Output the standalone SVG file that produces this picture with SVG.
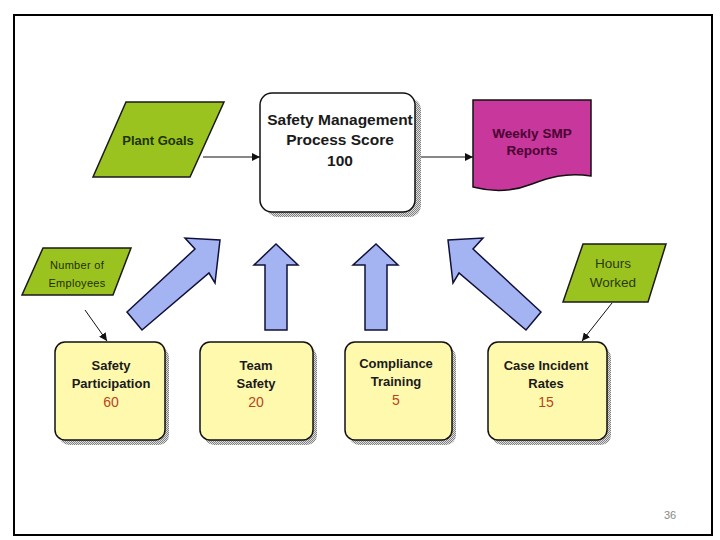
<svg xmlns="http://www.w3.org/2000/svg" width="720" height="540" viewBox="0 0 720 540">
<style>
.lbl{font-family:"Liberation Sans",Arial,sans-serif;font-weight:bold;text-anchor:middle}
.reg{font-family:"Liberation Sans",Arial,sans-serif;text-anchor:middle}
.para{fill:#9BC31F;stroke:#1a1a1a;stroke-width:1.5}
.box{fill:#FFF9AE;stroke:#111;stroke-width:1.5}
.big{fill:#A4B4F2;stroke:#10103a;stroke-width:1.5;stroke-linejoin:miter}
.conn{stroke:#111;stroke-width:1;fill:none}
.num{fill:#B5451B;font-size:14px}
</style>
<defs>
<pattern id="hatch" width="2" height="2" patternUnits="userSpaceOnUse">
<rect width="2" height="2" fill="#e0e0e0"/>
<rect width="1" height="1" fill="#808080"/>
<rect x="1" y="1" width="1" height="1" fill="#808080"/>
</pattern>
<marker id="arr" viewBox="0 0 10 10" refX="10" refY="5" markerWidth="8" markerHeight="8" markerUnits="userSpaceOnUse" orient="auto">
<path d="M0,0 L10,5 L0,10 Z" fill="#111"/>
</marker>
</defs>
<rect width="720" height="540" fill="#fff"/>
<rect x="14" y="15" width="698" height="520" fill="none" stroke="#000" stroke-width="2"/>

<g id="connectors">
<line class="conn" x1="203" y1="157" x2="260" y2="157" marker-end="url(#arr)"/>
<line class="conn" x1="415" y1="157" x2="473" y2="157" marker-end="url(#arr)"/>
<line class="conn" x1="85" y1="310" x2="107" y2="341" marker-end="url(#arr)"/>
<line class="conn" x1="612" y1="303" x2="582" y2="341" marker-end="url(#arr)"/>
<polygon class="big" points="127,312 195,249 185,238 220,240 215,283 209,273 142,330"/>
<polygon class="big" points="265,330 265,265 254,265 276,244 298,265 287,265 287,330"/>
<polygon class="big" points="365,330 365,265 353,265 376,244 398,265 387,265 387,330"/>
<polygon class="big" points="541,312 473,249 483,238 448,240 453,283 459,273 526,330"/>
</g>

<g id="plant-goals">
<polygon class="para" points="126,102 224,102 190,177 93,177"/>
<text class="lbl" x="158" y="145" font-size="13" fill="#1d3300">Plant Goals</text>
</g>

<g id="smp-score">
<rect x="266" y="98" width="155" height="119" rx="12" fill="url(#hatch)"/>
<rect x="260" y="93" width="155" height="119" rx="12" fill="#fff" stroke="#111" stroke-width="1.5"/>
<text class="lbl" font-size="15.5" fill="#1a1a1a"><tspan x="340" y="125">Safety Management</tspan><tspan x="340" y="145">Process Score</tspan><tspan x="340" y="166">100</tspan></text>
</g>

<g id="weekly-reports">
<path d="M473,100 H591 V176 C565,172 548,178 532,184 C512,192 492,192 473,187 Z" fill="#C8379B" stroke="#111" stroke-width="1.5"/>
<text class="lbl" font-size="13.5" fill="#4a0033"><tspan x="532" y="138">Weekly SMP</tspan><tspan x="532" y="155">Reports</tspan></text>
</g>

<g id="num-employees">
<polygon class="para" points="43,248 131,248 113,295 22,295"/>
<text class="reg" font-size="11" fill="#1e2e00" letter-spacing="0.3"><tspan x="77" y="269">Number of</tspan><tspan x="77" y="287">Employees</tspan></text>
</g>

<g id="hours-worked">
<polygon class="para" points="583,244 666,244 648,302 563,302"/>
<text class="reg" font-size="13.5" fill="#2a3a10"><tspan x="613" y="268">Hours</tspan><tspan x="613" y="287">Worked</tspan></text>
</g>

<g id="safety-participation">
<rect x="59" y="347" width="110" height="98" rx="10" fill="url(#hatch)"/>
<rect class="box" x="55" y="342" width="110" height="98" rx="10"/>
<text class="lbl" font-size="13" fill="#1a1a1a"><tspan x="111" y="370">Safety</tspan><tspan x="111" y="388">Participation</tspan></text>
<text class="reg num" x="111" y="407">60</text>
</g>

<g id="team-safety">
<rect x="204" y="347" width="113" height="98" rx="10" fill="url(#hatch)"/>
<rect class="box" x="200" y="342" width="113" height="98" rx="10"/>
<text class="lbl" font-size="13" fill="#1a1a1a"><tspan x="256" y="370">Team</tspan><tspan x="256" y="388">Safety</tspan></text>
<text class="reg num" x="256" y="407">20</text>
</g>

<g id="compliance-training">
<rect x="349" y="347" width="107" height="98" rx="10" fill="url(#hatch)"/>
<rect class="box" x="345" y="342" width="107" height="98" rx="10"/>
<text class="lbl" font-size="13" fill="#1a1a1a"><tspan x="396" y="368">Compliance</tspan><tspan x="396" y="386">Training</tspan></text>
<text class="reg num" x="396" y="405">5</text>
</g>

<g id="case-incident">
<rect x="492" y="347" width="119" height="98" rx="10" fill="url(#hatch)"/>
<rect class="box" x="488" y="342" width="119" height="98" rx="10"/>
<text class="lbl" font-size="13" fill="#1a1a1a"><tspan x="546" y="370">Case Incident</tspan><tspan x="546" y="388">Rates</tspan></text>
<text class="reg num" x="546" y="407">15</text>
</g>

<text class="reg" x="670" y="519" font-size="11" fill="#888">36</text>
</svg>
